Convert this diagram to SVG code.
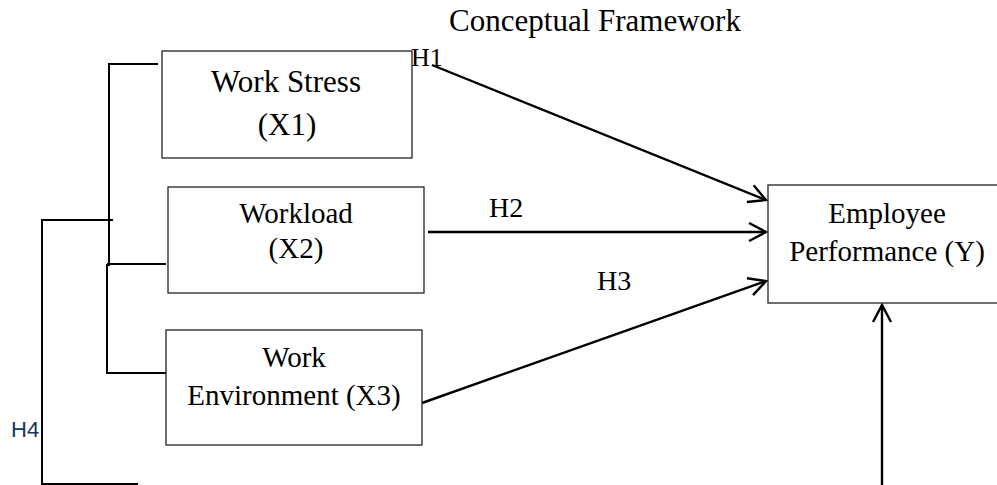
<svg xmlns="http://www.w3.org/2000/svg" width="997" height="485" viewBox="0 0 997 485">
<style>
  .box { fill: #fff; stroke: #222; stroke-width: 1.3; }
  .t { font-family: "Liberation Serif", "Times New Roman", serif; fill: #000; text-anchor: middle; }
  .lbl { font-family: "Liberation Serif", "Times New Roman", serif; fill: #000; }
  .br { fill: none; stroke: #000; stroke-width: 2; }
  .arr { fill: none; stroke: #000; stroke-width: 2.4; marker-end: url(#ah); }
</style>
<defs>
  <marker id="ah" markerUnits="userSpaceOnUse" viewBox="-20 -12 22 24" refX="0" refY="0" markerWidth="22" markerHeight="24" orient="auto">
    <path d="M -17 -9 L 0 0 L -17 9" fill="none" stroke="#000" stroke-width="2.4"/>
  </marker>
</defs>
<rect width="997" height="485" fill="#fff"/>

<text class="t" x="595" y="31" font-size="31">Conceptual Framework</text>

<g id="connectors">
  <path class="br" d="M158,64 H109 V266"/>
  <path class="br" d="M107,264 H166"/>
  <path class="br" d="M107,264 V373 H173"/>
  <path class="br" d="M113,220 H42 V484 H138" stroke="#222" stroke-width="1.8"/>
  <line class="arr" x1="432" y1="65" x2="766" y2="200"/>
  <line class="arr" x1="428" y1="232" x2="766" y2="232"/>
  <line class="arr" x1="422" y1="403" x2="766" y2="281"/>
  <line class="arr" x1="882" y1="485" x2="882" y2="305"/>
  <text class="lbl" x="411" y="66" font-size="26">H1</text>
  <text class="lbl" x="489" y="217" font-size="28">H2</text>
  <text class="lbl" x="597" y="290" font-size="28">H3</text>
  <text x="11" y="437" font-size="22" font-family="'Liberation Sans', Arial, sans-serif" fill="#17365D">H4</text>
</g>

<g id="x1">
  <rect class="box" x="162" y="51" width="250" height="107"/>
  <text class="t" x="286" y="92" font-size="31">Work Stress</text>
  <text class="t" x="287" y="135" font-size="31">(X1)</text>
</g>

<g id="x2">
  <rect class="box" x="168" y="187" width="256" height="106"/>
  <text class="t" x="296" y="223" font-size="29">Workload</text>
  <text class="t" x="296" y="258" font-size="29">(X2)</text>
</g>

<g id="x3">
  <rect class="box" x="166" y="330" width="256" height="115"/>
  <text class="t" x="294" y="367" font-size="29">Work</text>
  <text class="t" x="294" y="405" font-size="29">Environment (X3)</text>
</g>

<g id="y">
  <rect class="box" x="768" y="185" width="240" height="118"/>
  <text class="t" x="887" y="223" font-size="29">Employee</text>
  <text class="t" x="887" y="261" font-size="29">Performance (Y)</text>
</g>
</svg>
